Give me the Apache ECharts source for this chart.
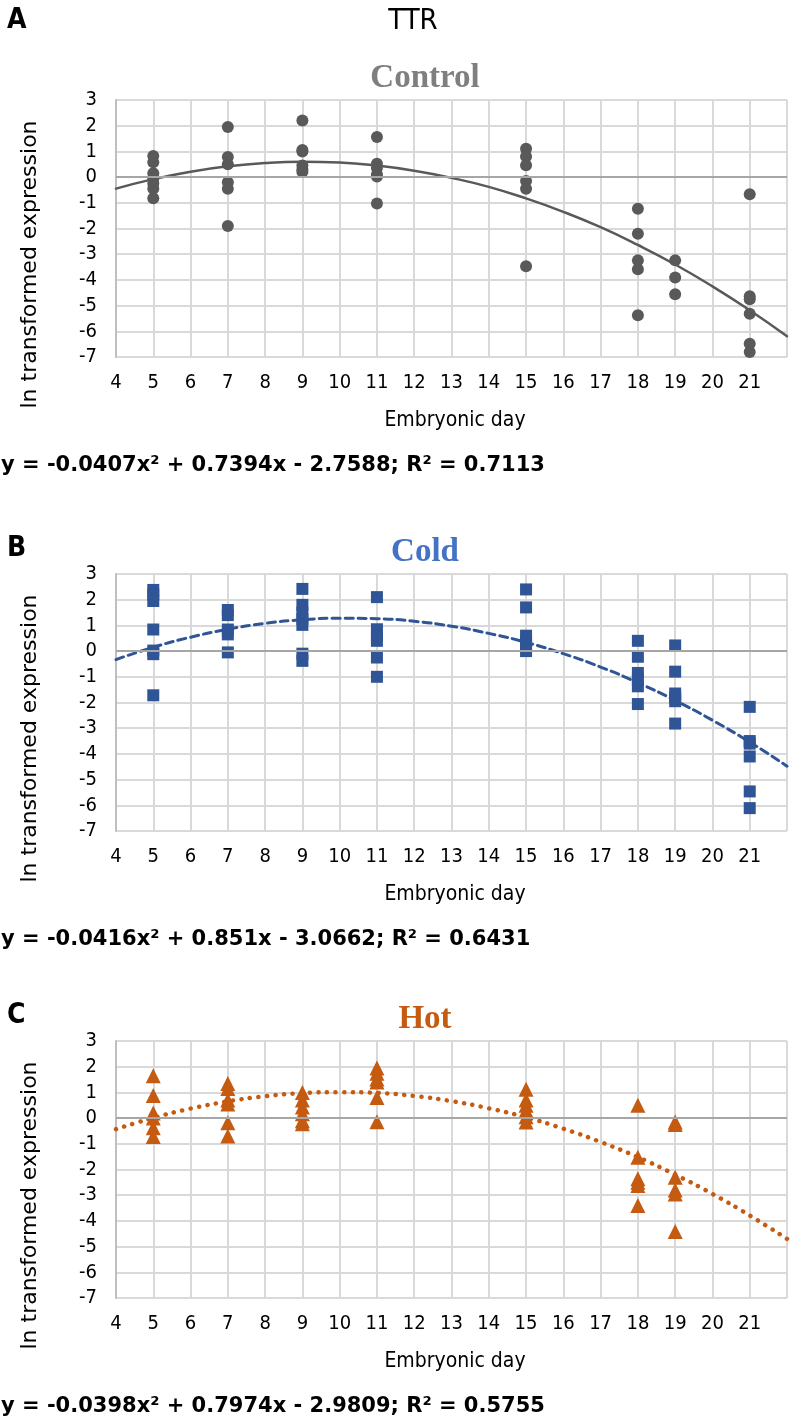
<!DOCTYPE html>
<html>
<head>
<meta charset="utf-8">
<script src="https://cdn.jsdelivr.net/npm/echarts@6/dist/echarts.min.js"></script>
<style>
html,body{margin:0;padding:0;background:#fff;}
#c{width:790px;height:1421px;}
</style>
</head>
<body>
<div id="c"></div>
<script>
// ---- data ----
var days = [5, 7, 9, 11, 15, 18, 19, 21];
var controlValues = [
  [0.82, 0.58, 0.15, -0.05, -0.25, -0.45, -0.82],
  [1.95, 0.78, 0.5, -0.2, -0.45, -1.9],
  [2.2, 1.05, 1.0, 0.45, 0.3, 0.2],
  [1.56, 0.52, 0.35, 0.1, 0.02, -1.03],
  [1.1, 0.8, 0.46, -0.15, -0.45, -3.47],
  [-1.23, -2.2, -3.24, -3.59, -5.38],
  [-3.24, -3.91, -4.56],
  [-0.67, -4.64, -4.75, -5.32, -6.48, -6.81]
];
var coldValues = [
  [2.38, 2.2, 1.95, 0.84, 0.02, -0.12, -1.72],
  [1.6, 1.4, 0.84, 0.65, -0.05],
  [2.42, 1.8, 1.5, 1.25, 1.02, -0.1, -0.38],
  [2.1, 0.85, 0.6, 0.4, -0.25, -1.0],
  [2.4, 1.7, 0.6, 0.4, 0.2, 0.0],
  [0.4, -0.22, -0.85, -1.1, -1.37, -2.06],
  [0.22, -0.8, -1.65, -1.8, -1.95, -2.82],
  [-2.17, -3.5, -3.6, -4.1, -5.46, -6.11]
];
var hotValues = [
  [1.65, 0.88, 0.2, 0.0, -0.38, -0.72],
  [1.35, 1.15, 0.7, 0.55, -0.18, -0.7],
  [1.0, 0.7, 0.43, 0.17, -0.1, -0.22],
  [1.95, 1.75, 1.52, 1.4, 0.8, -0.14],
  [1.12, 0.7, 0.5, 0.3, 0.05, -0.15],
  [0.5, -1.52, -2.36, -2.5, -2.62, -3.4],
  [-0.15, -0.25, -2.3, -2.8, -2.95, -4.41],
  []
];
var trendX = [4, 5, 6, 7, 8, 9, 10, 11, 12, 13, 14, 15, 16, 17, 18, 19, 20, 21, 22];
var controlTrend = [-0.45, -0.08, 0.21, 0.42, 0.55, 0.60, 0.57, 0.45, 0.25, -0.03, -0.38, -0.83, -1.35, -1.95, -2.64, -3.40, -4.25, -5.18, -6.19];
var coldTrend = [-0.33, 0.15, 0.54, 0.85, 1.08, 1.22, 1.28, 1.26, 1.16, 0.97, 0.69, 0.34, -0.10, -0.62, -1.23, -1.92, -2.69, -3.54, -4.48];
var hotTrend = [-0.43, 0.01, 0.37, 0.65, 0.85, 0.97, 1.01, 0.98, 0.86, 0.66, 0.38, 0.03, -0.41, -0.93, -1.52, -2.20, -2.95, -3.79, -4.70];
var xLabelsHidden = [22];
var panelLetters = ['A', 'B', 'C'];
var panelTitles = ['Control', 'Cold', 'Hot'];
var equations = [
  'y = -0.0407x² + 0.7394x - 2.7588; R² = 0.7113',
  'y = -0.0416x² + 0.851x - 3.0662; R² = 0.6431',
  'y = -0.0398x² + 0.7974x - 2.9809; R² = 0.5755'
];

// ---- build ----
function pairs(vals) {
  var out = [];
  for (var i = 0; i < days.length; i++) {
    var arr = vals[i] || [];
    for (var j = 0; j < arr.length; j++) out.push([days[i], arr[j]]);
  }
  return out;
}
function trend(t) { return trendX.map(function (x, i) { return [x, t[i]]; }); }

var gridTops = [100, 574, 1041];
var gridH = 257;
var titleColors = ['#7f7f7f', '#4472c4', '#c55a11'];
var markColors = ['#595959', '#2f5597', '#c55a11'];
var symbols = ['circle', 'rect', 'triangle'];
var symbolSizes = [12, 12, 15];
var lineTypes = ['solid', [8, 5], [0.1, 8.5]];
var lineWidths = [2.5, 3, 4.5];
var allValues = [controlValues, coldValues, hotValues];
var allTrends = [controlTrend, coldTrend, hotTrend];

var condensed = '"DejaVu Sans Condensed", "DejaVu Sans", sans-serif';

var grids = [], xAxes = [], yAxes = [], series = [], graphics = [];
for (var k = 0; k < 3; k++) {
  var gTop = gridTops[k];
  grids.push({ left: 116, top: gTop, width: 671, height: gridH, containLabel: false });
  xAxes.push({
    type: 'value', gridIndex: k, min: 4, max: 22, interval: 1,
    axisLine: { show: false }, axisTick: { show: false },
    splitLine: { show: true, lineStyle: { color: '#d9d9d9', width: 2 } },
    axisLabel: {
      margin: 16, fontSize: 20, color: '#000', fontFamily: condensed,
      formatter: function (v) { return xLabelsHidden.indexOf(v) >= 0 ? '' : String(v); }
    }
  });
  yAxes.push({
    type: 'value', gridIndex: k, min: -7, max: 3, interval: 1,
    axisLine: { show: true, lineStyle: { color: '#bfbfbf', width: 2 } },
    axisTick: { show: false },
    splitLine: { show: true, lineStyle: { color: '#d9d9d9', width: 2 } },
    axisLabel: { margin: 19, fontSize: 20, color: '#000', fontFamily: condensed }
  });
  series.push({
    type: 'line', xAxisIndex: k, yAxisIndex: k, data: [], silent: true,
    markLine: {
      silent: true, symbol: 'none', label: { show: false },
      lineStyle: { color: '#a6a6a6', width: 2, type: 'solid' },
      data: [{ yAxis: 0 }]
    }
  });
  series.push({
    type: 'scatter', xAxisIndex: k, yAxisIndex: k,
    symbol: symbols[k], symbolSize: symbolSizes[k],
    itemStyle: { color: markColors[k], opacity: 1 },
    data: pairs(allValues[k]), z: 3
  });
  series.push({
    type: 'line', xAxisIndex: k, yAxisIndex: k, smooth: true, showSymbol: false, symbol: 'none',
    lineStyle: { color: markColors[k], width: lineWidths[k], type: lineTypes[k], cap: 'round' },
    data: trend(allTrends[k]), z: 4, silent: true
  });
  // panel letter
  graphics.push({ type: 'text', x: 7, y: gTop - (k === 0 ? 79 : 25), style: {
    text: panelLetters[k], font: 'bold 28px ' + condensed, fill: '#000',
    textAlign: 'left', textVerticalAlign: 'middle' } });
  // panel title
  graphics.push({ type: 'text', x: 425, y: gTop - 22, style: {
    text: panelTitles[k], font: 'bold 33px "Liberation Serif", serif', fill: titleColors[k],
    textAlign: 'center', textVerticalAlign: 'middle' } });
  // y axis name
  graphics.push({ type: 'text', x: 30, y: gTop + gridH / 2 + 36, rotation: Math.PI / 2, style: {
    text: 'ln transformed expression', font: '22px "DejaVu Sans", sans-serif', fill: '#000',
    textAlign: 'center', textVerticalAlign: 'middle' } });
  // x axis name
  graphics.push({ type: 'text', x: 455, y: gTop + gridH + 64, style: {
    text: 'Embryonic day', font: '21px ' + condensed, fill: '#000',
    textAlign: 'center', textVerticalAlign: 'middle' } });
  // equation
  graphics.push({ type: 'text', x: 1, y: gTop + gridH + 109, style: {
    text: equations[k], font: 'bold 21px "DejaVu Sans", sans-serif', fill: '#000',
    textAlign: 'left', textVerticalAlign: 'middle' } });
}
graphics.push({ type: 'text', x: 413, y: 21, style: {
  text: 'TTR', font: '29px ' + condensed, fill: '#000', textAlign: 'center', textVerticalAlign: 'middle' } });

var chart = echarts.init(document.getElementById('c'), null, { renderer: 'canvas' });
chart.setOption({
  animation: false,
  backgroundColor: '#fff',
  grid: grids, xAxis: xAxes, yAxis: yAxes, series: series, graphic: graphics
});
</script>
</body>
</html>
